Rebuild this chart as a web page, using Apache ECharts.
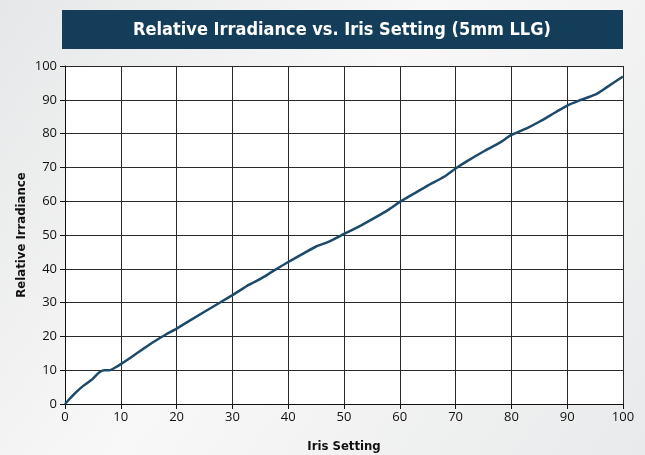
<!DOCTYPE html>
<html style="height: 100%">
<head>
    <meta charset="utf-8" />
    <title>Relative Irradiance vs. Iris Setting</title>
    <script type="text/javascript" src="https://cdn.jsdelivr.net/npm/echarts@6/dist/echarts.min.js"></script>
</head>
<body style="height: 100%; margin: 0">
    <div id="container" style="width: 645px; height: 455px"></div>
</body>
</html>
<script type="text/javascript">
    // iris setting (%) vs relative irradiance
    var irisSetting = [0, 1, 2, 3, 4, 5, 6, 7, 8, 9, 10, 12, 14, 16, 18, 20, 25, 30, 33, 35, 37, 40, 43, 45, 47, 50,
        53, 55, 58, 60, 63, 65, 68, 70, 72, 75, 78, 80, 83, 85, 88, 90, 92, 95, 97, 100];
    var irradiance = [0, 1.8, 3.5, 5, 6.2, 7.5, 9.2, 10, 10, 10.8, 11.8, 14, 16.3, 18.5, 20.5, 22.3, 27.3, 32.2, 35.3, 37, 39, 42, 44.8, 46.6, 47.8, 50.3,
        52.8, 54.6, 57.5, 59.8, 62.7, 64.6, 67.3, 69.7, 71.8, 74.7, 77.4, 79.6, 81.8, 83.5, 86.4, 88.3, 89.7, 91.5, 93.6, 96.9];

    var titleText = 'Relative Irradiance vs. Iris Setting (5mm LLG)';
    var headFont = '"DejaVu Sans Condensed", "DejaVu Sans", sans-serif';

    var dom = document.getElementById("container");
    var myChart = echarts.init(dom);

    var option = {
        backgroundColor: {
            type: 'linear', x: 0, y: 0, x2: 1, y2: 1,
            colorStops: [{ offset: 0, color: '#e6e7e8' }, { offset: 0.45, color: '#f8f8f8' }, { offset: 1, color: '#e9eaeb' }]
        },
        animation: false,
        graphic: [{
            type: 'rect',
            shape: { x: 62, y: 10, width: 561, height: 39 },
            style: { fill: '#143d5a' }
        }, {
            type: 'text',
            x: 342, y: 30,
            style: {
                text: titleText,
                fill: '#ffffff',
                font: 'bold 18px ' + headFont,
                align: 'center',
                verticalAlign: 'middle'
            }
        }],
        grid: {
            left: 65, top: 66, right: 22, bottom: 51, outerBoundsMode: 'none',
            show: true, backgroundColor: '#ffffff', borderWidth: 0
        },
        xAxis: {
            type: 'value', min: 0, max: 100, interval: 10,
            name: 'Iris Setting', nameLocation: 'middle', nameGap: 36, nameMoveOverlap: false,
            nameTextStyle: { fontFamily: headFont, fontWeight: 'bold', fontSize: 13, color: '#111' },
            axisLine: { lineStyle: { color: '#111', width: 1 } },
            axisTick: { show: true, length: 5, lineStyle: { color: '#111' } },
            axisLabel: { color: '#111', fontSize: 13, fontFamily: '"Open Sans", sans-serif', margin: 7 },
            splitLine: { lineStyle: { color: '#2a2a2a', width: 1 } }
        },
        yAxis: {
            type: 'value', min: 0, max: 100, interval: 10,
            name: 'Relative Irradiance', nameLocation: 'middle', nameGap: 37, nameMoveOverlap: false,
            nameTextStyle: { fontFamily: headFont, fontWeight: 'bold', fontSize: 13, color: '#111' },
            axisLine: { show: true, lineStyle: { color: '#111', width: 1 } },
            axisTick: { show: true, length: 5, lineStyle: { color: '#111' } },
            axisLabel: { color: '#111', fontSize: 13, fontFamily: '"Open Sans", sans-serif', margin: 8 },
            splitLine: { lineStyle: { color: '#2a2a2a', width: 1 } }
        },
        series: [{
            type: 'line',
            data: irisSetting.map(function (x, i) { return [x, irradiance[i]]; }),
            showSymbol: false,
            smooth: 0.2,
            lineStyle: { color: '#1b4a6b', width: 2.5 }
        }]
    };

    myChart.setOption(option);
</script>
